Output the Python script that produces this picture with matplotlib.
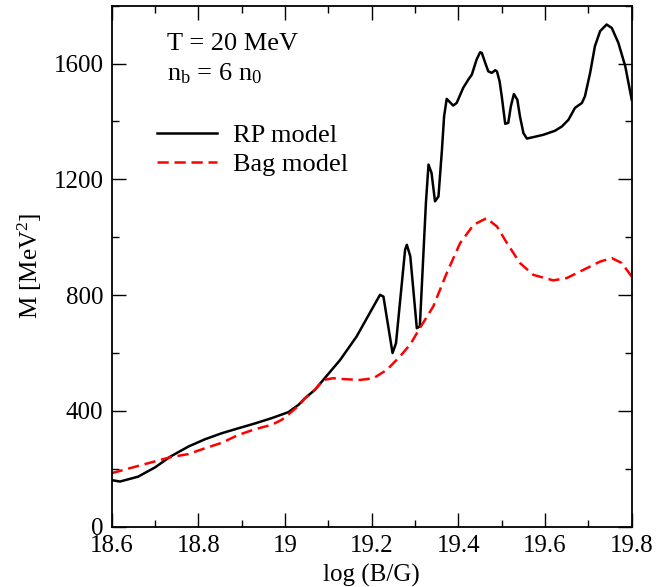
import numpy as np
import matplotlib
matplotlib.use("Agg")
import matplotlib.pyplot as plt
from matplotlib.ticker import MultipleLocator, FuncFormatter

plt.rcParams['font.family'] = ['Liberation Serif', 'DejaVu Serif']
plt.rcParams['mathtext.default'] = 'regular'

# RP model (black solid)
rp_x = [18.600, 18.619, 18.661, 18.700, 18.735, 18.777, 18.815, 18.854, 18.892, 18.931,
        18.969, 19.008, 19.031, 19.046, 19.069, 19.088, 19.127, 19.165, 19.219, 19.227,
        19.248, 19.256, 19.277, 19.281, 19.289, 19.304, 19.311, 19.325, 19.331, 19.338,
        19.346, 19.354, 19.362, 19.367, 19.373, 19.388, 19.396, 19.411, 19.423, 19.431,
        19.442, 19.450, 19.454, 19.462, 19.469, 19.477, 19.485, 19.489, 19.495, 19.500,
        19.508, 19.515, 19.521, 19.528, 19.536, 19.542, 19.550, 19.558, 19.573, 19.596,
        19.623, 19.639, 19.654, 19.669, 19.685, 19.692, 19.704, 19.715, 19.727, 19.742,
        19.754, 19.769, 19.785, 19.800]
rp_y = [161, 156, 173, 205, 242, 277, 302, 323, 340, 357,
        375, 396, 421, 444, 473, 507, 576, 657, 801, 795,
        600, 634, 957, 974, 934, 686, 692, 1118, 1251, 1222,
        1124, 1141, 1302, 1418, 1478, 1455, 1464, 1516, 1545, 1562,
        1614, 1639, 1637, 1602, 1573, 1568, 1577, 1573, 1539, 1487,
        1392, 1395, 1452, 1495, 1475, 1418, 1360, 1341, 1346, 1354,
        1368, 1383, 1406, 1447, 1464, 1487, 1568, 1660, 1712, 1735,
        1723, 1672, 1591, 1475]

# Bag model (red dashed)
bag_x = [18.600, 18.661, 18.735, 18.777, 18.815, 18.854, 18.892, 18.931, 18.969, 18.992,
         19.011, 19.031, 19.046, 19.069, 19.088, 19.111, 19.135, 19.173, 19.204, 19.235,
         19.265, 19.289, 19.311, 19.342, 19.373, 19.404, 19.435, 19.465, 19.489, 19.512,
         19.542, 19.573, 19.619, 19.650, 19.696, 19.727, 19.754, 19.777, 19.800]
bag_y = [185, 210, 240, 251, 271, 290, 317, 337, 352, 369,
         392, 418, 444, 473, 507, 513, 510, 507, 513, 542,
         588, 630, 686, 761, 876, 980, 1043, 1066, 1037, 980,
         911, 870, 851, 859, 893, 916, 928, 911, 864]

fig = plt.figure(figsize=(6.58, 5.87), dpi=100)
ax = fig.add_axes([0.1698, 0.1027, 0.7903, 0.8876])

ax.plot(rp_x, rp_y, color='black', lw=1.8, label='RP model')
ax.plot(bag_x, bag_y, color='red', lw=1.8, linestyle=(0, (4.5, 2.3)), label='Bag model')

ax.set_xlim(18.6, 19.8)
ax.set_ylim(0, 1800)
ax.xaxis.set_major_locator(MultipleLocator(0.2))
ax.xaxis.set_minor_locator(MultipleLocator(0.1))
ax.yaxis.set_major_locator(MultipleLocator(400))
ax.yaxis.set_minor_locator(MultipleLocator(200))
ax.xaxis.set_major_formatter(FuncFormatter(lambda v, p: '%g' % round(v, 2)))
ax.tick_params(which='both', direction='in', top=True, right=True, labelsize=18, width=1)
ax.tick_params(which='major', length=10, pad=6)
ax.tick_params(which='minor', length=5)
for s in ax.spines.values():
    s.set_linewidth(1.3)

ax.set_xlabel('log (B/G)', fontsize=18, labelpad=5)
ax.set_ylabel('M [MeV$^{2}$]', fontsize=18, labelpad=7)

ax.text(0.106, 0.915, 'T = 20 MeV', transform=ax.transAxes, fontsize=19, va='baseline')
ax.text(0.106, 0.857, 'n$_{b}$ = 6 n$_{0}$', transform=ax.transAxes, fontsize=19, va='baseline')

ax.legend(loc='upper left', bbox_to_anchor=(0.087, 0.774), frameon=False, fontsize=19,
          handlelength=2.27, handletextpad=0.6, labelspacing=0.22, borderpad=0,
          borderaxespad=0)

fig.savefig('out.png', dpi=100)
